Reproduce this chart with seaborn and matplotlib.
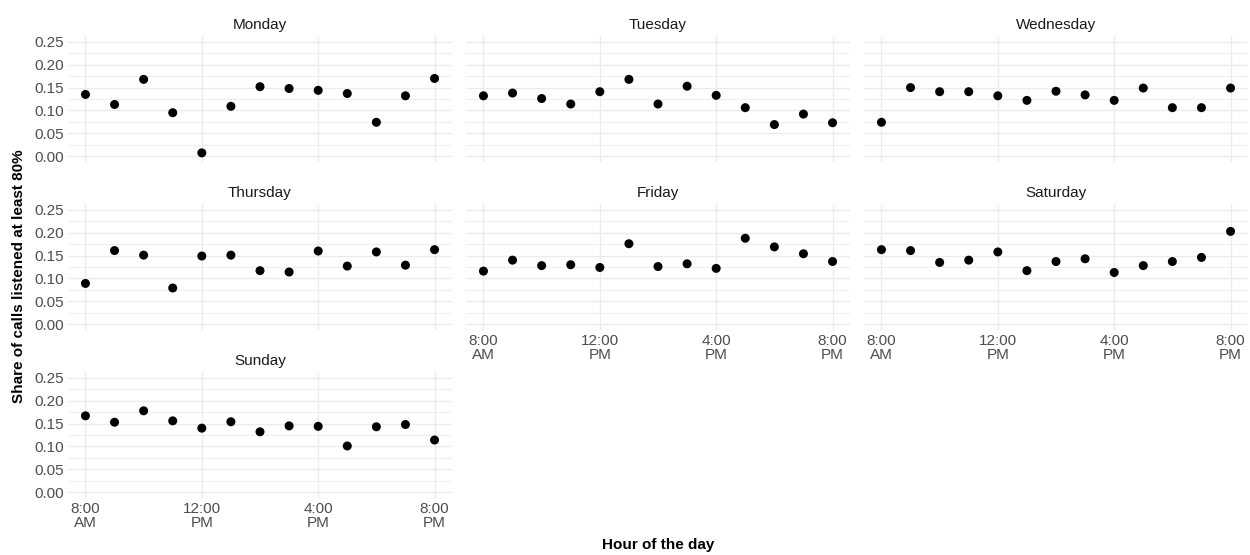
import numpy as np
import pandas as pd
import matplotlib
matplotlib.use("Agg")
import matplotlib.pyplot as plt
import seaborn as sns

days = ["Monday", "Tuesday", "Wednesday", "Thursday", "Friday", "Saturday", "Sunday"]
hours = [8, 9, 10, 11, 12, 13, 14, 15, 16, 17, 18, 19, 20]

monday = [0.135, 0.113, 0.168, 0.095, 0.007, 0.109, 0.152, 0.148, 0.144, 0.137, 0.074, 0.132, 0.170]
tuesday = [0.132, 0.138, 0.126, 0.114, 0.141, 0.168, 0.114, 0.153, 0.133, 0.106, 0.069, 0.092, 0.073]
wednesday = [0.074, 0.150, 0.141, 0.141, 0.132, 0.122, 0.142, 0.134, 0.122, 0.149, 0.106, 0.106, 0.149]
thursday = [0.089, 0.161, 0.151, 0.079, 0.149, 0.151, 0.117, 0.114, 0.160, 0.127, 0.158, 0.129, 0.163]
friday = [0.116, 0.140, 0.128, 0.130, 0.124, 0.176, 0.126, 0.132, 0.122, 0.188, 0.169, 0.154, 0.137]
saturday = [0.163, 0.161, 0.135, 0.140, 0.158, 0.117, 0.137, 0.143, 0.113, 0.128, 0.137, 0.146, 0.203]
sunday = [0.167, 0.153, 0.178, 0.156, 0.140, 0.154, 0.132, 0.145, 0.144, 0.101, 0.143, 0.148, 0.114]

tick_hours = [8, 12, 16, 20]
tick_labels = ["8:00\nAM", "12:00\nPM", "4:00\nPM", "8:00\nPM"]
y_ticks = [0.00, 0.05, 0.10, 0.15, 0.20, 0.25]
y_tick_labels = ["0.00", "0.05", "0.10", "0.15", "0.20", "0.25"]
y_minor = [0.025, 0.075, 0.125, 0.175, 0.225]

series = [monday, tuesday, wednesday, thursday, friday, saturday, sunday]
df = pd.DataFrame({
    "day": np.repeat(days, len(hours)),
    "hour": hours * len(days),
    "share": np.concatenate(series),
})

sns.set_theme(style="white")
plt.rcParams["font.family"] = ["Liberation Sans", "DejaVu Sans"]

W, H = 1250, 555
fig = plt.figure(figsize=(W / 100, H / 100), dpi=100)
fig.patch.set_facecolor("white")

lefts = [68, 466, 864]
pw = 384
tops = [36, 204, 372]
ph = 126
grid_col = "#EBEBEB"

for i, day in enumerate(days):
    r, c = divmod(i, 3)
    ax = fig.add_axes([lefts[c] / W, 1 - (tops[r] + ph) / H, pw / W, ph / H])
    sub = df[df["day"] == day]
    ax.set_axisbelow(True)
    sns.scatterplot(data=sub, x="hour", y="share", ax=ax, color="black",
                    s=42, linewidth=0, edgecolor="none", zorder=3)
    ax.set_xlim(7.4, 20.6)
    ax.set_ylim(-0.013, 0.263)
    ax.set_xticks(tick_hours)
    ax.set_yticks(y_ticks)
    ax.set_yticks(y_minor, minor=True)
    ax.grid(True, which="major", color=grid_col, linewidth=1.0)
    ax.grid(True, which="minor", axis="y", color=grid_col, linewidth=0.6)
    ax.tick_params(which="both", length=0, labelsize=11, labelcolor="#4D4D4D", pad=3)
    for s in ax.spines.values():
        s.set_visible(False)
    ax.set_xlabel("")
    ax.set_ylabel("")
    ax.set_title(day, fontsize=11, color="#1A1A1A", pad=5)
    if c == 0:
        ax.set_yticklabels(y_tick_labels)
    else:
        ax.tick_params(labelleft=False)
    if i >= 4:
        ax.set_xticklabels(tick_labels, linespacing=1.0)
    else:
        ax.tick_params(labelbottom=False)

fig.text(658 / W, 1 - 545 / H, "Hour of the day", ha="center", va="center",
         fontsize=11, fontweight="bold", color="black")
fig.text(19 / W, 1 - 276 / H, "Share of calls listened at least 80%", ha="center", va="center",
         rotation=90, fontsize=11, fontweight="bold", color="black")

fig.savefig("out.png", dpi=100, facecolor="white")
